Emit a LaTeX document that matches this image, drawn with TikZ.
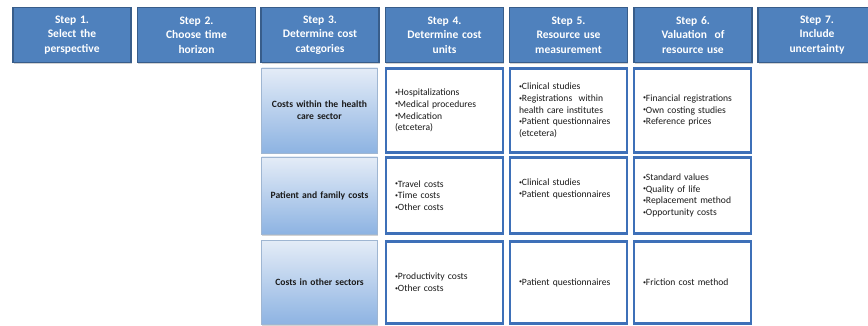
\documentclass[tikz,border=0pt]{standalone}
\usepackage{fontspec}
\setmainfont{Carlito}
\usetikzlibrary{shadows}
\definecolor{hdrfill}{HTML}{4F81BD}
\definecolor{hdrline}{HTML}{385D8A}
\definecolor{boxline}{HTML}{3E70B8}
\definecolor{cattop}{HTML}{E4ECF7}
\definecolor{catbot}{HTML}{8DB3E2}
\definecolor{catline}{HTML}{9FB6D2}
\definecolor{txt}{HTML}{1A1A1A}
\newcommand{\bul}{\raisebox{0.3ex}{\fontsize{6}{6}\selectfont•}}
\tikzset{
  hdr/.style={draw=hdrline, line width=1.6pt, fill=hdrfill, text=white,
    font=\fontsize{11.5}{14.5}\selectfont\bfseries, align=center,
    minimum width=118pt, minimum height=55pt, inner sep=0pt, text width=114pt,
    drop shadow={shadow xshift=0.8pt, shadow yshift=-1.2pt, opacity=0.35}},
  cat/.style={draw=catline, line width=0.8pt, top color=cattop, bottom color=catbot,
    text=txt, font=\fontsize{9.6}{11.7}\selectfont\bfseries, align=center,
    minimum width=116pt, inner sep=0pt, text width=112pt,
    drop shadow={shadow xshift=0.6pt, shadow yshift=-1.5pt, opacity=0.35}},
  cell/.style={draw=boxline, line width=2.2pt, fill=white, text=txt,
    font=\fontsize{9.6}{11.7}\selectfont, align=left,
    minimum width=117pt, inner sep=0pt, text width=99pt}
}
\begin{document}
\begin{tikzpicture}[x=1pt,y=-1pt]
\useasboundingbox (0,0) rectangle (868,326);
% header row
\node[hdr] (h1) at (72,35) {Step 1.\\Select the\\perspective};
\node[hdr] (h2) at (196.5,35) {Step 2.\\Choose time\\horizon};
\node[hdr] (h3) at (320,35) {Step 3.\\Determine cost\\categories};
\node[hdr] (h4) at (444.5,35) {Step 4.\\Determine cost\\units};
\node[hdr] (h5) at (568.5,35) {Step 5.\\Resource use\\measurement};
\node[hdr] (h6) at (693,35) {Step 6.\\Valuation\ \ of\\resource use};
\node[hdr] (h7) at (817,35) {Step 7.\\Include\\uncertainty};
% row 1
\node[cat, minimum height=85pt] (c1) at (319.5,110.5) {Costs within the health\\care sector};
\node[cell, minimum height=84pt] (u1) at (444.5,110.5) {\bul Hospitalizations\\\bul Medical procedures\\\bul Medication\\(etcetera)};
\node[cell, minimum height=84pt] (m1) at (568.5,110.5) {\bul Clinical studies\\\bul Registrations\ \ within\\health care institutes\\\bul Patient questionnaires\\(etcetera)};
\node[cell, minimum height=84pt] (v1) at (692.5,110.5) {\bul Financial registrations\\\bul Own costing studies\\\bul Reference prices};
% row 2
\node[cat, minimum height=77pt] (c2) at (319.5,195.5) {Patient and family costs};
\node[cell, minimum height=76pt] (u2) at (444.5,195.5) {\bul Travel costs\\\bul Time costs\\\bul Other costs};
\node[cell, minimum height=76pt] (m2) at (568.5,195.5) {\bul Clinical studies\\\bul Patient questionnaires\\\strut};
\node[cell, minimum height=76pt] (v2) at (692.5,195.5) {\bul Standard values\\\bul Quality of life\\\bul Replacement method\\\bul Opportunity costs};
% row 3
\node[cat, minimum height=84pt] (c3) at (319.5,282.5) {Costs in other sectors};
\node[cell, minimum height=82pt] (u3) at (444.5,282.5) {\bul Productivity costs\\\bul Other costs};
\node[cell, minimum height=82pt] (m3) at (568.5,282.5) {\bul Patient questionnaires};
\node[cell, minimum height=82pt] (v3) at (692.5,282.5) {\bul Friction cost method};
\end{tikzpicture}
\end{document}
